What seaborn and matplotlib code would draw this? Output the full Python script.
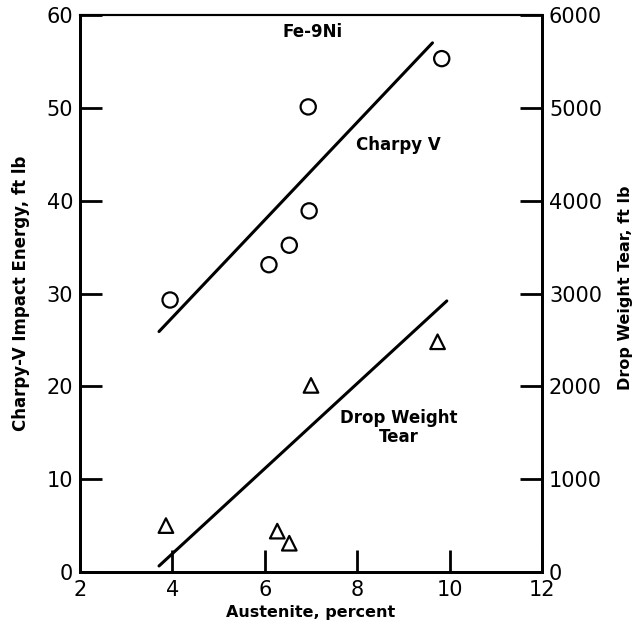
import matplotlib
matplotlib.use("Agg")
import matplotlib.pyplot as plt
import seaborn as sns
import pandas as pd

# Charpy-V impact energy (ft lb) vs austenite content (percent), Fe-9Ni
charpy_austenite = [3.95, 6.09, 6.53, 6.96, 6.94, 9.83]
charpy_energy = [29.3, 33.1, 35.2, 38.9, 50.1, 55.3]
charpy_fit_x = [3.71, 9.63]
charpy_fit_y = [25.9, 57.0]

# Drop weight tear energy (ft lb) vs austenite content (percent)
dwt_austenite = [3.86, 6.27, 6.53, 7.00, 9.74]
dwt_energy = [500, 440, 310, 2010, 2480]
dwt_fit_x = [3.71, 9.94]
dwt_fit_y = [65, 2920]

x_ticks = [2, 4, 6, 8, 10, 12]
left_ticks = [0, 10, 20, 30, 40, 50, 60]
right_ticks = [0, 1000, 2000, 3000, 4000, 5000, 6000]

sns.set_theme(style="white")
plt.rcParams["font.family"] = ["DejaVu Sans"]
plt.rcParams["text.color"] = "black"
plt.rcParams["axes.labelcolor"] = "black"

charpy = pd.DataFrame({"austenite": charpy_austenite, "energy": charpy_energy})
dwt = pd.DataFrame({"austenite": dwt_austenite, "energy": dwt_energy})
charpy_fit = pd.DataFrame({"austenite": charpy_fit_x, "energy": charpy_fit_y})
dwt_fit = pd.DataFrame({"austenite": dwt_fit_x, "energy": dwt_fit_y})

fig = plt.figure(figsize=(6.35, 6.25), dpi=100)
ax = fig.add_axes([0.126, 0.0848, 0.7275, 0.8912])
ax2 = ax.twinx()

sns.lineplot(data=charpy_fit, x="austenite", y="energy", ax=ax,
             color="black", linewidth=2.2)
sns.scatterplot(data=charpy, x="austenite", y="energy", ax=ax,
                marker="o", s=120, facecolor="none", edgecolor="black",
                linewidth=1.6, zorder=3)

sns.lineplot(data=dwt_fit, x="austenite", y="energy", ax=ax2,
             color="black", linewidth=2.2)
sns.scatterplot(data=dwt, x="austenite", y="energy", ax=ax2,
                marker="^", s=110, facecolor="none", edgecolor="black",
                linewidth=1.6, zorder=3)

ax.set_xlim(2, 12)
ax.set_ylim(0, 60)
ax2.set_ylim(0, 6000)
ax.set_xticks(x_ticks)
ax.set_yticks(left_ticks)
ax2.set_yticks(right_ticks)
ax.set_xticklabels([str(t) for t in x_ticks])
ax.set_yticklabels([str(t) for t in left_ticks])
ax2.set_yticklabels([str(t) for t in right_ticks])

ax.tick_params(axis="both", direction="in", length=16, width=2,
               color="black", labelsize=15, labelcolor="black")
ax.tick_params(axis="x", pad=6, bottom=True, top=False)
ax.tick_params(axis="y", pad=5, left=True, right=False)
ax2.tick_params(axis="y", direction="in", length=16, width=2,
                color="black", labelsize=15, labelcolor="black", pad=5,
                right=True, left=False)
ax.grid(False)
ax2.grid(False)

for a in (ax, ax2):
    for side, spine in a.spines.items():
        spine.set_color("black")
        spine.set_linewidth(2.0)
    a.spines["top"].set_linewidth(1.5)

ax.set_xlabel("Austenite, percent", fontsize=11.5, fontweight="bold",
              labelpad=3)
ax.set_ylabel("Charpy-V Impact Energy, ft lb", fontsize=12,
              fontweight="bold", labelpad=12)
ax2.set_ylabel("")
fig.text(0.985, 0.54, "Drop Weight Tear, ft lb", rotation=90,
         fontsize=11.5, fontweight="bold", ha="center", va="center")

ax.text(7.04, 58.2, "Fe-9Ni", fontsize=12, fontweight="bold",
        ha="center", va="center")
ax.text(8.9, 46.0, "Charpy V", fontsize=12, fontweight="bold",
        ha="center", va="center")
ax.text(8.9, 15.6, "Drop Weight\nTear", fontsize=12, fontweight="bold",
        ha="center", va="center", linespacing=1.05)

fig.savefig("out.png", dpi=100, facecolor="white")
